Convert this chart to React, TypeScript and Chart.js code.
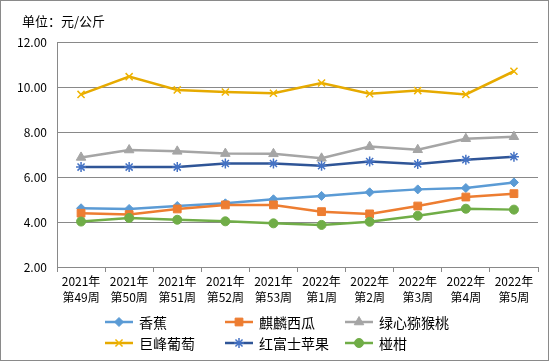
import React, { useEffect, useRef } from 'react';
import { Chart, registerables } from 'chart.js';
import { drawPoint } from 'chart.js/helpers';

Chart.register(...registerables);

const categories: string[][] = [
  ['2021年', '第49周'],
  ['2021年', '第50周'],
  ['2021年', '第51周'],
  ['2021年', '第52周'],
  ['2021年', '第53周'],
  ['2022年', '第1周'],
  ['2022年', '第2周'],
  ['2022年', '第3周'],
  ['2022年', '第4周'],
  ['2022年', '第5周'],
];

const banana = [4.61, 4.58, 4.71, 4.83, 5.01, 5.16, 5.32, 5.45, 5.51, 5.76];
const watermelon = [4.39, 4.33, 4.58, 4.76, 4.76, 4.46, 4.36, 4.71, 5.11, 5.26];
const kiwi = [6.87, 7.2, 7.14, 7.04, 7.03, 6.83, 7.35, 7.21, 7.7, 7.79];
const grape = [9.67, 10.46, 9.87, 9.78, 9.72, 10.18, 9.7, 9.84, 9.67, 10.7];
const apple = [6.44, 6.44, 6.44, 6.6, 6.6, 6.5, 6.69, 6.58, 6.77, 6.9];
const citrus = [4.02, 4.18, 4.1, 4.03, 3.94, 3.87, 4.01, 4.28, 4.59, 4.55];

const seriesNames = ['香蕉', '麒麟西瓜', '绿心猕猴桃', '巨峰葡萄', '红富士苹果', '椪柑'];
const yTicks = [2, 4, 6, 8, 10, 12];
const unitLabel = '单位：元/公斤';

const FONT = '"Noto Sans CJK SC", "Noto Sans", sans-serif';
const GRID = '#898989';

type S = {
  data: number[];
  line: string;
  marker: string;
  style: string;
  radius: number;
  pbw: number;
};

const series: S[] = [
  { data: banana, line: '#5B9BD5', marker: '#5B9BD5', style: 'rectRot', radius: 4.5, pbw: 1 },
  { data: watermelon, line: '#ED7D31', marker: '#ED7D31', style: 'rect', radius: 5.5, pbw: 1 },
  { data: kiwi, line: '#A5A5A5', marker: '#A5A5A5', style: 'triangle', radius: 5.5, pbw: 1 },
  { data: grape, line: '#E6AA00', marker: '#F0B400', style: 'crossRot', radius: 5, pbw: 1.5 },
  { data: apple, line: '#2F5597', marker: '#4472C4', style: 'star', radius: 5, pbw: 1.5 },
  { data: citrus, line: '#70AD47', marker: '#70AD47', style: 'circle', radius: 4.5, pbw: 1 },
];

const decorPlugin = {
  id: 'decor',
  afterDraw(chart: any) {
    const ctx = chart.ctx as CanvasRenderingContext2D;
    ctx.save();
    // border
    ctx.strokeStyle = '#8a8a8a';
    ctx.lineWidth = 1;
    ctx.strokeRect(0.5, 0.5, chart.width - 1, chart.height - 1);
    // title
    ctx.fillStyle = '#000';
    ctx.font = `13px ${FONT}`;
    ctx.textBaseline = 'middle';
    ctx.textAlign = 'left';
    ctx.fillText(unitLabel, 22, 21);
    // legend
    const cols = [105, 225, 345];
    const rows = [322, 343];
    series.forEach((s, i) => {
      const x = cols[i % 3];
      const y = rows[Math.floor(i / 3)];
      ctx.strokeStyle = s.line;
      ctx.lineWidth = 2.5;
      ctx.beginPath();
      ctx.moveTo(x, y);
      ctx.lineTo(x + 28, y);
      ctx.stroke();
      ctx.fillStyle = s.marker;
      ctx.strokeStyle = s.marker;
      ctx.lineWidth = s.pbw;
      drawPoint(ctx, { pointStyle: s.style, radius: s.radius, rotation: 0, borderWidth: s.pbw } as any, x + 14, y);
      ctx.fillStyle = '#000';
      ctx.font = `14px ${FONT}`;
      ctx.textBaseline = 'middle';
      ctx.textAlign = 'left';
      ctx.fillText(seriesNames[i], x + 34, y + 1);
    });
    ctx.restore();
  },
};

export default function App() {
  const ref = useRef<HTMLCanvasElement>(null);
  useEffect(() => {
    document.body.style.margin = '0';
    const canvas = ref.current!;
    const chart = new Chart(canvas, {
      type: 'line',
      data: {
        labels: categories as any,
        datasets: series.map((s, i) => ({
          label: seriesNames[i],
          data: s.data,
          borderColor: s.line,
          backgroundColor: s.marker,
          borderWidth: 2.5,
          pointStyle: s.style as any,
          pointRadius: s.radius,
          pointBackgroundColor: s.marker,
          pointBorderColor: s.marker,
          pointBorderWidth: s.pbw,
          tension: 0,
          fill: false,
          order: series.length - i,
        })),
      },
      options: {
        animation: false,
        responsive: false,
        devicePixelRatio: 1,
        layout: { padding: { left: 0, right: 11, top: 42, bottom: 44 } },
        plugins: {
          legend: { display: false },
          tooltip: { enabled: false },
          title: { display: false },
        },
        scales: {
          x: {
            type: 'category',
            offset: true,
            grid: {
              offset: true,
              drawOnChartArea: false,
              drawTicks: true,
              tickLength: 5,
              color: GRID,
            },
            border: { display: true, color: GRID },
            ticks: {
              color: '#000',
              font: { family: FONT, size: 12, lineHeight: 1.34 },
              padding: 1,
              maxRotation: 0,
              minRotation: 0,
              autoSkip: false,
            },
            afterFit: (s: any) => {
              s.height = 50;
            },
          },
          y: {
            min: yTicks[0],
            max: yTicks[yTicks.length - 1],
            afterBuildTicks: (s: any) => {
              s.ticks = yTicks.map((v) => ({ value: v }));
            },
            grid: { color: GRID, drawTicks: false, lineWidth: 1 },
            border: { display: true, color: GRID },
            ticks: {
              color: '#000',
              font: { family: FONT, size: 12 },
              padding: 10,
              callback: (v: any) => Number(v).toFixed(2),
            },
            afterFit: (s: any) => {
              s.width = 57;
            },
          },
        },
      },
      plugins: [decorPlugin],
    });
    return () => chart.destroy();
  }, []);
  return (
    <div style={{ width: 549, height: 361 }}>
      <canvas ref={ref} width={549} height={361} />
    </div>
  );
}
